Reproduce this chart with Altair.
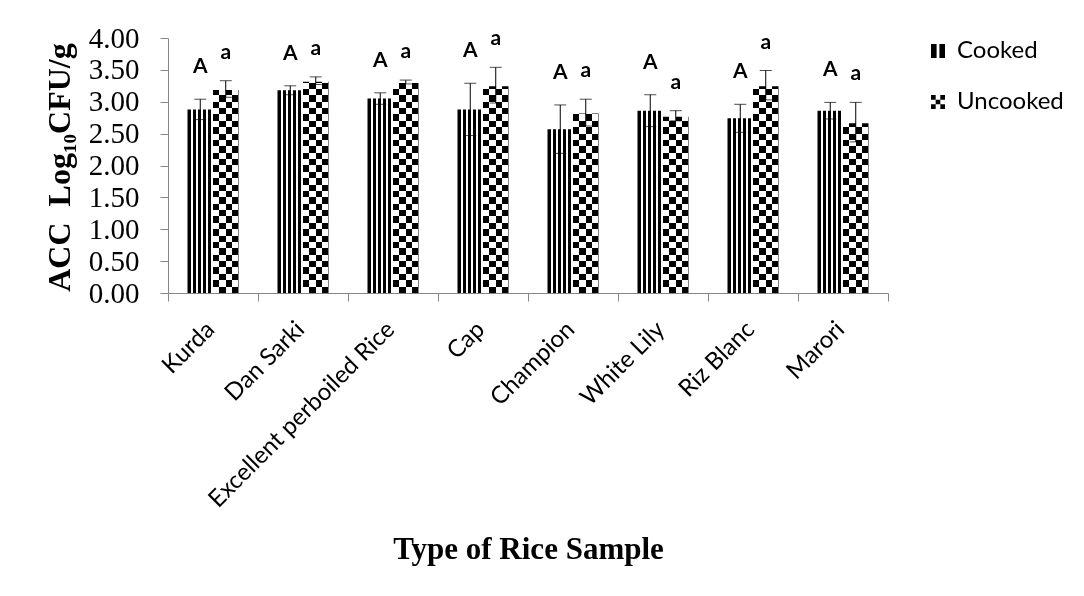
import altair as alt
import pandas as pd

# ---------------- data ----------------
samples = ["Kurda", "Dan Sarki", "Excellent perboiled Rice", "Cap",
           "Champion", "White Lily", "Riz Blanc", "Marori"]
types = ["Cooked", "Uncooked"]
cooked_mean = [2.88, 3.18, 3.05, 2.88, 2.57, 2.86, 2.74, 2.86]
cooked_err = [0.16, 0.07, 0.09, 0.41, 0.38, 0.25, 0.22, 0.13]
uncooked_mean = [3.20, 3.33, 3.31, 3.26, 2.83, 2.78, 3.26, 2.68]
uncooked_err = [0.13, 0.06, 0.03, 0.28, 0.21, 0.08, 0.23, 0.31]
cooked_letter = ["A", "A", "A", "A", "A", "A", "A", "A"]
uncooked_letter = ["a", "a", "a", "a", "a", "a", "a", "a"]
y_ticks = [0.0, 0.5, 1.0, 1.5, 2.0, 2.5, 3.0, 3.5, 4.0]

rows = []
for i, s in enumerate(samples):
    rows.append({"Sample": s, "Type": "Cooked", "Value": cooked_mean[i],
                 "Err": cooked_err[i], "Letter": cooked_letter[i]})
    rows.append({"Sample": s, "Type": "Uncooked", "Value": uncooked_mean[i],
                 "Err": uncooked_err[i], "Letter": uncooked_letter[i]})
df = pd.DataFrame(rows)
df["Lo"] = df["Value"] - df["Err"]
df["Hi"] = df["Value"] + df["Err"]


# ---------------- fill patterns as hard-stop gradients ----------------
def stripes(n, black_frac, vertical=True):
    stops = []
    for i in range(n):
        a = i / n
        m = (i + black_frac) / n
        b = (i + 1) / n
        stops += [{"offset": a, "color": "black"}, {"offset": m, "color": "black"},
                  {"offset": m, "color": "white"}, {"offset": b, "color": "white"}]
    if vertical:
        return {"gradient": "linear", "x1": 0, "y1": 0, "x2": 1, "y2": 0, "stops": stops}
    return {"gradient": "linear", "x1": 0, "y1": 0, "x2": 0, "y2": 1, "stops": stops}


cooked_fill = stripes(5, 0.6, True)
unc_vert = stripes(2, 0.5, True)
unc_horiz = stripes(20, 0.5, False)

GRAY = "#868686"

x_axis = alt.Axis(
    title="Type of Rice Sample", labelAngle=315, labelFont="Lato", labelFontSize=24,
    labelColor="black", labelPadding=16, labelOffset=-11, labelLimit=400, tickSize=8,
    tickBand="extent", tickColor=GRAY, domainColor=GRAY, titleFont="Liberation Serif",
    titleFontSize=31, titleFontWeight="bold", titleColor="black", titleY=265,
    titleBaseline="alphabetic",
)
y_axis = alt.Axis(
    title="ACC\u00a0\u00a0Log\u2081\u2080CFU/g", values=y_ticks, format=".2f", grid=False,
    labelFont="Liberation Serif", labelFontSize=29, labelColor="black", labelPadding=21,
    tickSize=8, tickColor=GRAY, domainColor=GRAY,
    titleFont="Liberation Serif", titleFontSize=32, titleFontWeight="bold", titleColor="black",
    titleX=-99, titleY=129, titleAngle=270, titleBaseline="alphabetic", titleAlign="center",
)
y_scale = alt.Scale(domain=[0, 4])

X = alt.X("Sample:N", sort=samples, scale=alt.Scale(domain=samples, paddingInner=0, paddingOuter=0),
          axis=x_axis)
XO = alt.XOffset("Type:N", scale=alt.Scale(domain=types, paddingInner=0, paddingOuter=0.765))

base = alt.Chart(df)
cook = base.transform_filter(alt.datum.Type == "Cooked")
unc = base.transform_filter(alt.datum.Type == "Uncooked")

cooked_bars = cook.mark_bar(color=cooked_fill).encode(
    x=X, xOffset=XO, y=alt.Y("Value:Q", scale=y_scale, axis=y_axis))

unc_h = unc.mark_bar(color=unc_horiz).encode(
    x=X, xOffset=XO, y=alt.Y(datum=4, scale=y_scale, axis=y_axis), y2=alt.Y2(datum=0))
unc_v = unc.mark_bar(color=unc_vert, blend="difference").encode(
    x=X, xOffset=XO, y=alt.Y("Value:Q", scale=y_scale, axis=y_axis))
unc_mask = unc.mark_bar(color="white", stroke="white", strokeWidth=2).encode(
    x=X, xOffset=XO, y=alt.Y("Value:Q", scale=y_scale, axis=y_axis), y2=alt.Y2(datum=4.2))

err_rule = base.mark_rule(color="black", strokeWidth=1).encode(
    x=X, xOffset=XO, y=alt.Y("Lo:Q", scale=y_scale, axis=y_axis), y2="Hi:Q")
cap_lo = base.mark_tick(color="black", thickness=1, size=12).encode(
    x=X, xOffset=XO, y=alt.Y("Lo:Q", scale=y_scale, axis=y_axis))
cap_hi = base.mark_tick(color="black", thickness=1, size=12).encode(
    x=X, xOffset=XO, y=alt.Y("Hi:Q", scale=y_scale, axis=y_axis))

letters_c = cook.mark_text(font="Lato", fontWeight="bold", fontSize=21, baseline="alphabetic",
                           dy=-26, color="black").encode(
    x=X, xOffset=XO, y=alt.Y("Hi:Q", scale=y_scale, axis=y_axis), text="Letter:N")
letters_u = unc.mark_text(font="Lato", fontWeight="bold", fontSize=21, baseline="alphabetic",
                          dy=-22, color="black").encode(
    x=X, xOffset=XO, y=alt.Y("Hi:Q", scale=y_scale, axis=y_axis), text="Letter:N")

p_cooked = "M-1,-1H-0.2V1H-1Z M0.2,-1H1V1H0.2Z"
p_unc = ("M-1,-1H-0.333V-0.333H-1Z M0.333,-1H1V-0.333H0.333Z M-0.333,-0.333H0.333V0.333H-0.333Z "
         "M-1,0.333H-0.333V1H-1Z M0.333,0.333H1V1H0.333Z")

legend_layer = base.transform_filter("false").mark_point(filled=True, color="black", opacity=1).encode(
    x=X, y=alt.Y("Value:Q", scale=y_scale, axis=y_axis),
    shape=alt.Shape("Type:N", scale=alt.Scale(domain=types, range=[p_cooked, p_unc]),
                    legend=alt.Legend(title=None, orient="none", legendX=758, legendY=1,
                                      symbolSize=196, labelFont="Lato", labelFontSize=24,
                                      labelColor="black", labelOffset=7, rowPadding=27,
                                      padding=0, symbolStrokeWidth=0, symbolFillColor="black",
                                      symbolOpacity=1)),
)

chart = alt.layer(
    cooked_bars, unc_h, unc_v, unc_mask, err_rule, cap_lo, cap_hi, letters_c, letters_u,
    legend_layer
).properties(
    width=720, height=255,
    autosize=alt.AutoSizeParams(type="none"),
    padding={"left": 160, "top": 30, "right": 178, "bottom": 285},
).configure_view(strokeWidth=0)

chart.save("out.html", embed_options={"renderer": "svg", "actions": False})
